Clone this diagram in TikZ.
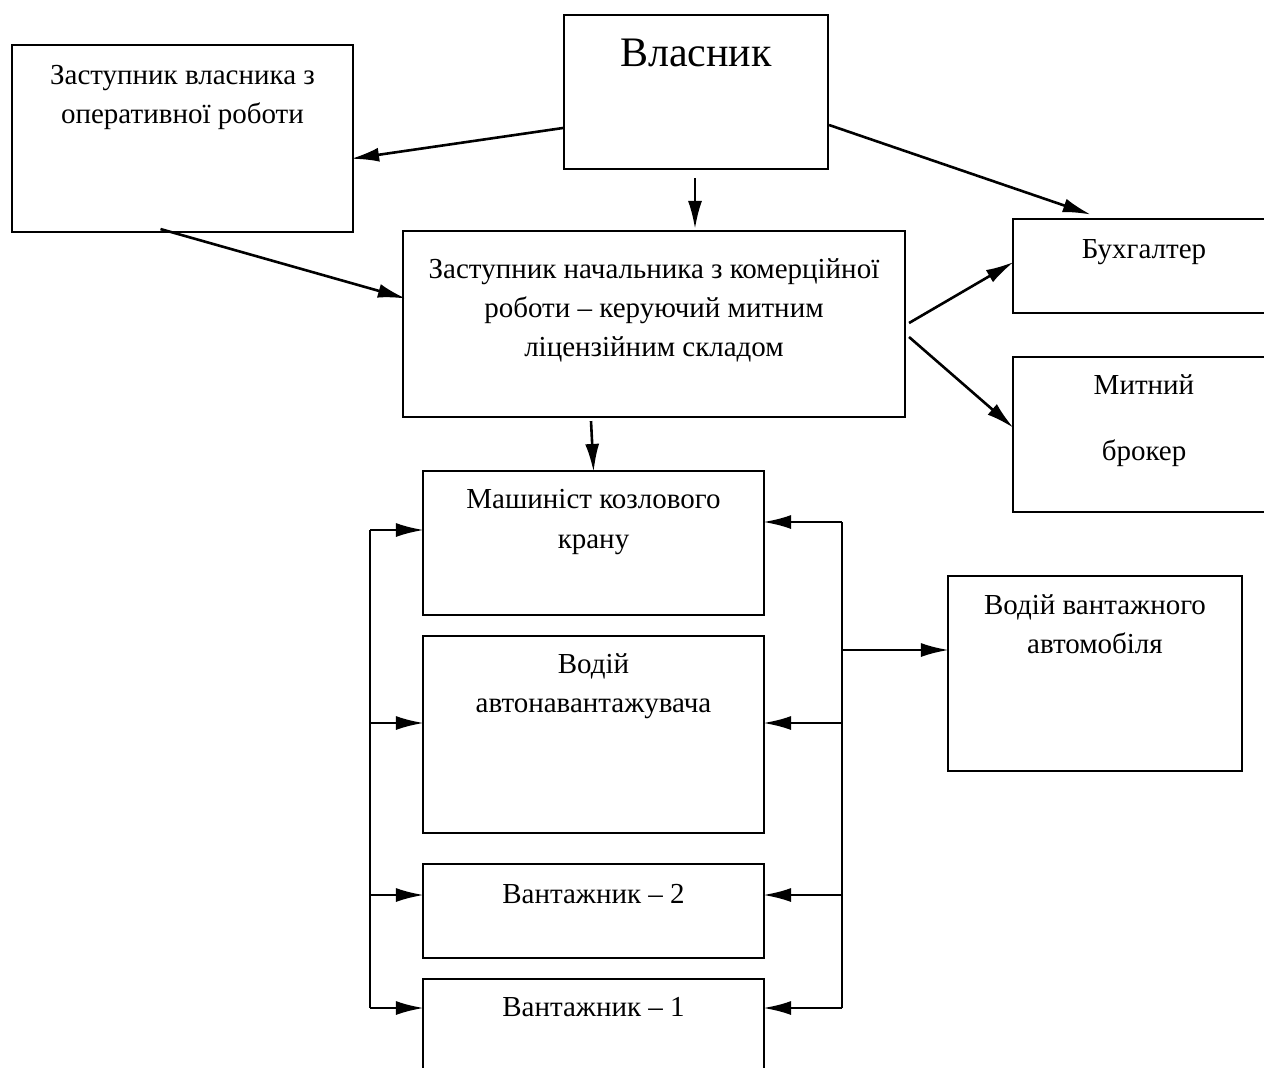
\documentclass[tikz,border=0pt]{standalone}
\usepackage{fontspec}
\setmainfont{Liberation Serif}
\usetikzlibrary{arrows.meta,calc}
\begin{document}
\begin{tikzpicture}[x=1pt,y=-1pt,
  box/.style={draw, line width=2.1pt, inner sep=0pt, fill=none},
  txt/.style={anchor=base, inner sep=0pt, font=\fontsize{29}{39}\selectfont},
  big/.style={anchor=base, inner sep=0pt, font=\fontsize{42}{50}\selectfont},
  arr/.style={line width=2.6pt, -{Latex[length=28pt,width=14pt]}, shorten >=-2pt},
  ln/.style={line width=2.6pt}]
\useasboundingbox (0,0) rectangle (1264,1068);
\fill[white] (0,0) rectangle (1264,1068);
% boxes
\node[box, minimum width=264pt, minimum height=154pt] (vl) at (696,92) {};
\node[box, minimum width=341pt, minimum height=187pt] (zv) at (182.5,138.5) {};
\node[box, minimum width=502pt, minimum height=186pt] (zn) at (654,324) {};
\node[box, minimum width=262pt, minimum height=94pt] (bh) at (1144,266) {};
\node[box, minimum width=262pt, minimum height=155pt] (mb) at (1144,434.5) {};
\node[box, minimum width=341pt, minimum height=144pt] (mk) at (593.5,543) {};
\node[box, minimum width=341pt, minimum height=197pt] (va) at (593.5,734.5) {};
\node[box, minimum width=341pt, minimum height=94pt] (v2) at (593.5,911) {};
\node[box, minimum width=341pt, minimum height=121pt] (v1) at (593.5,1039.5) {};
\node[box, minimum width=294pt, minimum height=195pt] (vv) at (1095,673.5) {};
% texts
\node[big] (tvl) at (696,66) {Власник};
\node[txt] (tzv1) at (182.5,84) {Заступник власника з};
\node[txt] (tzv2) at (182.5,123) {оперативної роботи};
\node[txt] (tzn1) at (654,278) {Заступник начальника з комерційної};
\node[txt] (tzn2) at (654,317) {роботи – керуючий митним};
\node[txt] (tzn3) at (654,356) {ліцензійним складом};
\node[txt] (tbh) at (1144,258) {Бухгалтер};
\node[txt] (tmb1) at (1144,394) {Митний};
\node[txt] (tmb2) at (1144,460) {брокер};
\node[txt] (tmk1) at (593.5,508) {Машиніст козлового};
\node[txt] (tmk2) at (593.5,548) {крану};
\node[txt] (tva1) at (593.5,673) {Водій};
\node[txt] (tva2) at (593.5,712) {автонавантажувача};
\node[txt] (tv2) at (593.5,903) {Вантажник – 2};
\node[txt] (tv1) at (593.5,1016) {Вантажник – 1};
\node[txt] (tvv1) at (1095,614) {Водій вантажного};
\node[txt] (tvv2) at (1095,653) {автомобіля};
% diagonal / top connectors
\draw[arr] ($(vl.west)+(0,36)$) -- ($(zv.east)+(-1,20)$);
\draw[arr] ($(vl.south)+(-1,8)$) -- ($(zn.north)+(41,-3)$);
\draw[arr] ($(vl.east)+(0,33)$) -- ($(bh.north west)+(77,-4)$);
\draw[arr] ($(zv.south)+(-22,-4)$) -- ($(zn.west)+(2,-26)$);
\draw[arr] ($(zn.east)+(3,-1)$) -- ($(bh.west)+(0,-3)$);
\draw[arr] ($(zn.east)+(3,13)$) -- ($(mb.west)+(0,-8)$);
\draw[arr] ($(zn.south)+(-63,3)$) -- (mk.north);
% left bus
\coordinate (l1) at (370,530);
\coordinate (l2) at (370,723);
\coordinate (l3) at (370,895);
\coordinate (l4) at (370,1008);
\draw[ln] (l1) -- (l4);
\draw[arr] (l1) -- (l1 -| mk.west);
\draw[arr] (l2) -- (l2 -| va.west);
\draw[arr] (l3) -- (l3 -| v2.west);
\draw[arr] (l4) -- (l4 -| v1.west);
% right bus
\coordinate (r1) at (842,522);
\coordinate (r2) at (842,723);
\coordinate (r3) at (842,895);
\coordinate (r4) at (842,1008);
\coordinate (r5) at (842,650);
\draw[ln] (r1) -- (r4);
\draw[arr] (r1) -- (r1 -| mk.east);
\draw[arr] (r2) -- (r2 -| va.east);
\draw[arr] (r3) -- (r3 -| v2.east);
\draw[arr] (r4) -- (r4 -| v1.east);
\draw[arr] (r5) -- (r5 -| vv.west);
\end{tikzpicture}
\end{document}
